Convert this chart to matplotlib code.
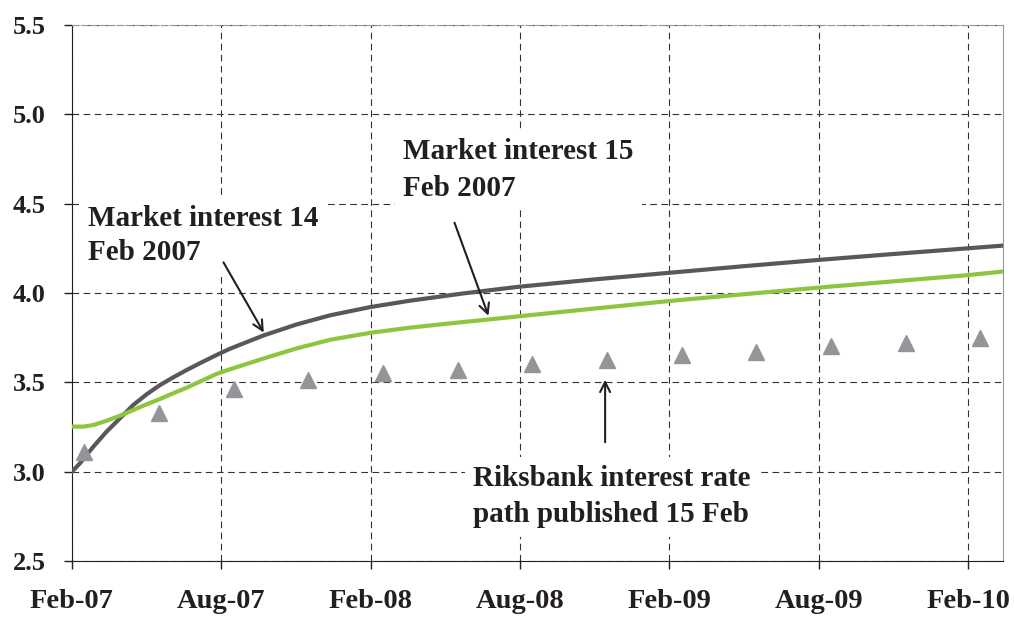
import matplotlib.pyplot as plt

plt.rcParams['font.family'] = 'Liberation Serif'
plt.rcParams['font.weight'] = 'bold'

# months after Feb 2007
tick_pos = [0, 6, 12, 18, 24, 30, 36]
tick_labels = ['Feb-07', 'Aug-07', 'Feb-08', 'Aug-08', 'Feb-09', 'Aug-09', 'Feb-10']

m14 = [0, 0.32, 0.86, 1.39, 1.93, 2.46, 3.0, 3.54, 4.07, 4.61, 5.14, 5.81, 6.35, 7.69, 9.03,
       10.37, 11.98, 13.59, 15.7, 17.9, 21, 24, 27, 30, 33, 36, 37.4]
rate14 = [3.0, 3.047, 3.14, 3.224, 3.299, 3.373, 3.433, 3.485, 3.528, 3.569, 3.607, 3.653, 3.688,
          3.762, 3.824, 3.875, 3.921, 3.957, 3.997, 4.034, 4.076, 4.113, 4.15, 4.185, 4.218, 4.25,
          4.265]

m15 = [0, 0.45, 0.86, 1.39, 1.93, 2.46, 3.0, 3.54, 4.07, 4.61, 5.14, 5.81, 6.35, 7.69, 9.03,
       10.37, 11.98, 13.59, 15.2, 16.7, 18, 21, 24, 27, 30, 33, 36, 37.4]
rate15 = [3.252, 3.252, 3.261, 3.285, 3.313, 3.345, 3.377, 3.407, 3.439, 3.47, 3.504, 3.547, 3.573,
          3.633, 3.69, 3.738, 3.777, 3.806, 3.83, 3.851, 3.87, 3.913, 3.955, 3.993, 4.03, 4.065,
          4.10, 4.12]

path_m = [0.5, 3.5, 6.5, 9.5, 12.5, 15.5, 18.5, 21.5, 24.5, 27.5, 30.5, 33.5, 36.5]
path_rate = [3.11, 3.33, 3.46, 3.515, 3.55, 3.57, 3.60, 3.625, 3.655, 3.67, 3.705, 3.72, 3.75]

fig = plt.figure(figsize=(10.14, 6.19), dpi=100)
ax = fig.add_axes([0.071, 0.0937, 0.918, 0.866])

ax.plot(m14, rate14, color='#58585a', lw=3, solid_joinstyle='round', zorder=3)
ax.plot(m15, rate15, color='#8cc63f', lw=3, solid_joinstyle='round', zorder=3)
ax.plot(path_m, path_rate, linestyle='none', marker='^', markersize=11,
        color='#939598', zorder=4)

ax.set_xlim(0, 37.4)
ax.set_ylim(2.5, 5.5)
ax.set_xticks(tick_pos)
ax.set_xticklabels(tick_labels)
ax.set_yticks([2.5, 3.0, 3.5, 4.0, 4.5, 5.0, 5.5])
ax.set_yticklabels(['2.5', '3.0', '3.5', '4.0', '4.5', '5.0', '5.5'])
ax.tick_params(axis='both', length=6, width=1, direction='out', colors='#231f20')
ax.tick_params(axis='y', labelsize=19, pad=13)
ax.tick_params(axis='x', labelsize=20.5, pad=14.5)

ax.grid(True, color='#333333', linestyle=(0, (6, 4)), linewidth=0.8, zorder=1)
ax.spines['left'].set_color('#231f20')
ax.spines['bottom'].set_color('#231f20')
ax.spines['right'].set_color('#999999')
ax.spines['top'].set_color('#999999')
ax.spines['top'].set_linestyle((0, (6, 2)))

box = dict(facecolor='white', edgecolor='none', pad=6)
ax.text(0.64, 4.492, 'Market interest 14\nFeb 2007', fontsize=21, va='top', ha='left',
        color='#231f20', linespacing=1.33, bbox=box, zorder=2)
ax.text(13.3, 4.867, 'Market interest 15\nFeb 2007', fontsize=21, va='top', ha='left',
        color='#231f20', linespacing=1.45, bbox=box, zorder=2)
ax.text(16.12, 3.037, 'Riksbank interest rate\npath published 15 Feb', fontsize=21, va='top',
        ha='left', color='#231f20', linespacing=1.45, bbox=box, zorder=2)

arrow = dict(arrowstyle='->', color='#231f20', lw=1.5, mutation_scale=18)
ax.annotate('', xy=(7.76, 3.765), xytext=(6.03, 4.185), arrowprops=arrow, zorder=5)
ax.annotate('', xy=(16.77, 3.858), xytext=(15.33, 4.408), arrowprops=arrow, zorder=5)
ax.annotate('', xy=(21.42, 3.53), xytext=(21.42, 3.149), arrowprops=arrow, zorder=5)

fig.savefig('out.png', dpi=100)
